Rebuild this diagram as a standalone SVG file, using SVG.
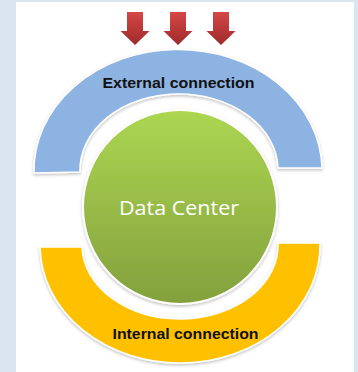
<svg xmlns="http://www.w3.org/2000/svg" width="358" height="372" viewBox="0 0 358 372">
  <defs>
    <linearGradient id="gGreen" x1="0" y1="0" x2="0" y2="1">
      <stop offset="0" stop-color="#acd651"/>
      <stop offset="1" stop-color="#83a03d"/>
    </linearGradient>
    <linearGradient id="gRed" x1="0" y1="0" x2="0" y2="1">
      <stop offset="0" stop-color="#d64747"/>
      <stop offset="1" stop-color="#9e2a2a"/>
    </linearGradient>
    <filter id="sh" x="-10%" y="-10%" width="120%" height="125%">
      <feDropShadow dx="0" dy="1.5" stdDeviation="1.5" flood-color="#000" flood-opacity="0.25"/>
    </filter>
    <path id="arrow" d="M -8 12 H 8 V 31 H 14.5 L 0 45 L -14.5 31 H -8 Z"/>
  </defs>
  <style>
    .band { stroke: #ffffff; stroke-width: 1.5; filter: url(#sh); }
    .lbl { font-family: "Liberation Sans", Arial, sans-serif; font-weight: bold; font-size: 15px; fill: #111; text-anchor: middle; }
    .dc { font-family: "Open Sans", "Liberation Sans", sans-serif; font-size: 19.5px; fill: #ffffff; text-anchor: middle; }
  </style>
  <rect x="0" y="0" width="358" height="372" fill="#dbe5f1"/>
  <rect x="16" y="2" width="338" height="370" fill="#ffffff"/>

  <g id="connectors">
    <use href="#arrow" x="135" fill="url(#gRed)"/>
    <use href="#arrow" x="178" fill="url(#gRed)"/>
    <use href="#arrow" x="221" fill="url(#gRed)"/>
  </g>

  <g id="external">
    <path class="band" fill="#8db3e2" d="M 34 173 A 144 121 0 0 1 322 168 L 278 168 A 99 76 0 0 0 80 172 Z"/>
    <text class="lbl" x="178.5" y="88" textLength="152" lengthAdjust="spacingAndGlyphs">External connection</text>
  </g>

  <g id="internal">
    <path class="band" fill="#ffc000" d="M 40 247 L 82 247 A 98 74 0 0 0 278 243 L 320 243 A 140 118 0 0 1 40 247 Z"/>
    <text class="lbl" x="185.5" y="339" textLength="146" lengthAdjust="spacingAndGlyphs">Internal connection</text>
  </g>

  <g id="datacenter">
    <circle cx="180" cy="207" r="97" fill="url(#gGreen)" stroke="#ffffff" stroke-width="2" filter="url(#sh)"/>
    <text class="dc" x="179" y="215" textLength="120" lengthAdjust="spacingAndGlyphs">Data Center</text>
  </g>
</svg>
